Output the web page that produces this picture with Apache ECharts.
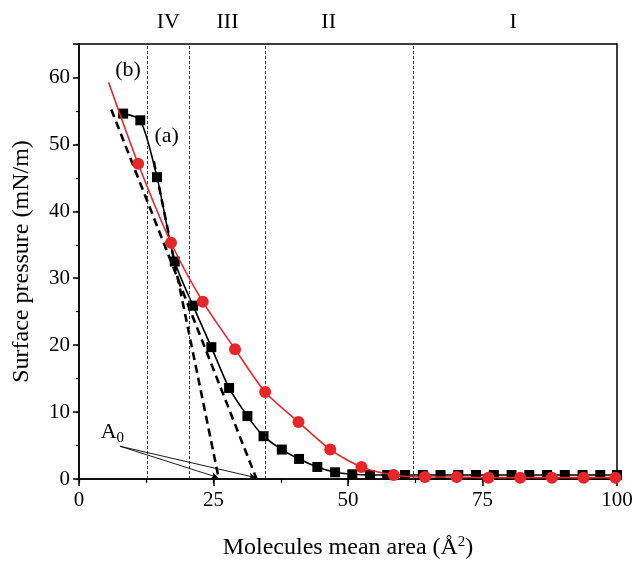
<!DOCTYPE html>
<html>
<head>
<meta charset="utf-8">
<script src="https://cdn.jsdelivr.net/npm/echarts@6/dist/echarts.min.js"></script>
<style>
html, body { margin: 0; padding: 0; background: #fff; }
#chart { width: 641px; height: 571px; }
</style>
</head>
<body>
<div id="chart"></div>
<script>
// curve (a), black squares
const areaA = [8.2, 11.4, 14.5, 17.8, 21.2, 24.6, 27.9, 31.3, 34.3, 37.7, 40.9, 44.3, 47.6, 50.8, 54.1, 57.3,
  60.6, 63.9, 67.2, 70.5, 73.8, 77.1, 80.4, 83.7, 87.0, 90.3, 93.6, 96.9, 100];
const pressA = [54.6, 53.6, 45.1, 32.5, 25.9, 19.7, 13.6, 9.4, 6.4, 4.4, 3.0, 1.8, 1.0, 0.7, 0.6, 0.6,
  0.6, 0.6, 0.6, 0.6, 0.6, 0.6, 0.6, 0.6, 0.6, 0.6, 0.6, 0.6, 0.6];
// curve (b), red circles (first point is the start of the fit, no marker)
const areaB = [5.5, 11.0, 17.1, 23.0, 29.0, 34.6, 40.8, 46.7, 52.5, 58.5, 64.3, 70.2, 76.1, 82.0, 87.9, 93.8, 99.7];
const pressB = [59.3, 47.1, 35.3, 26.5, 19.4, 13.0, 8.5, 4.4, 1.8, 0.6, 0.3, 0.3, 0.2, 0.2, 0.2, 0.2, 0.2];
// extrapolated tangents
const tangentA = [[13.9, 47.5], [26.0, 0]];
const tangentB = [[6.0, 55.2], [33.0, 0]];
// A0 pointer lines
const a0From = [7.6, 4.9];
const a0To = [[25.9, 0.2], [32.9, 0.2]];
// phase regions
const regionBounds = [12.7, 20.5, 34.6, 62.2];
const regionNames = ['IV', 'III', 'II', 'I'];
const regionCenters = [16.6, 27.6, 46.4, 80.7];

const serif = 'Liberation Serif';
const chart = echarts.init(document.getElementById('chart'));

const option = {
  animation: false,
  grid: { left: 79, right: 24, top: 44, bottom: 92, show: true, borderColor: '#000', borderWidth: 1.5 },
  xAxis: [
    {
      type: 'value', min: 0, max: 100, interval: 25,
      name: 'Molecules mean area (Å{sup|2})', nameLocation: 'middle', nameGap: 56,
      nameTextStyle: { fontFamily: serif, fontSize: 24, color: '#000',
        rich: { sup: { fontFamily: serif, fontSize: 15, verticalAlign: 'top', padding: [0, 0, 11, 0] } } },
      axisLine: { onZero: false, lineStyle: { color: '#000', width: 1.5 } },
      axisTick: { inside: false, length: 7, lineStyle: { color: '#000', width: 1.5 } },
      axisLabel: { fontFamily: serif, fontSize: 21, color: '#000', margin: 11 },
      splitLine: { show: false }
    },
    {
      type: 'value', min: 0, max: 100, interval: 12.5, position: 'bottom',
      axisLine: { show: false },
      axisTick: { length: 4, lineStyle: { color: '#000', width: 1.2 } },
      axisLabel: { show: false }, splitLine: { show: false }
    }
  ],
  yAxis: [
    {
      type: 'value', min: 0, max: 65, interval: 10,
      name: 'Surface pressure (mN/m)', nameLocation: 'middle', nameGap: 45,
      nameTextStyle: { fontFamily: serif, fontSize: 24, color: '#000' },
      axisLine: { show: true, lineStyle: { color: '#000', width: 1.5 } },
      axisTick: { inside: false, length: 6, lineStyle: { color: '#000', width: 1.5 } },
      axisLabel: { fontFamily: serif, fontSize: 21, color: '#000', margin: 9,
        formatter: v => (v > 60 ? '' : v) },
      splitLine: { show: false }
    },
    {
      type: 'value', min: 0, max: 65, interval: 5, position: 'left',
      axisLine: { show: false },
      axisTick: { length: 3, lineStyle: { color: '#000', width: 1.2 } },
      axisLabel: { show: false }, splitLine: { show: false }
    }
  ],
  series: [
    {
      name: 'tangentA', type: 'line', data: tangentA, symbol: 'none', z: 3,
      lineStyle: { color: '#000', width: 2.6, type: [8, 5] }
    },
    {
      name: 'tangentB', type: 'line', data: tangentB, symbol: 'none', z: 3,
      lineStyle: { color: '#000', width: 2.6, type: [8, 5] },
      markLine: {
        silent: true, symbol: ['none', 'none'], label: { show: false },
        lineStyle: { color: '#333', width: 1, type: [3, 2] },
        data: regionBounds.map(v => ({ xAxis: v }))
      }
    },
    {
      name: 'a', type: 'line', smooth: 0.25,
      data: areaA.map((x, i) => [x, pressA[i]]),
      symbol: 'rect', symbolSize: 10, z: 4,
      itemStyle: { color: '#000' },
      lineStyle: { color: '#000', width: 1.6 },
      markLine: {
        silent: true, symbol: ['none', 'arrow'], symbolSize: [5, 7], label: { show: false },
        lineStyle: { color: '#000', width: 0.9, type: 'solid' },
        data: a0To.map(p => [{ coord: a0From }, { coord: p }])
      }
    },
    {
      name: 'b', type: 'line', smooth: 0.25,
      data: areaB.map((x, i) => (i === 0 ? { value: [x, pressB[i]], symbol: 'none' } : [x, pressB[i]])),
      symbol: 'circle', symbolSize: 12, z: 5,
      itemStyle: { color: '#e8262a' },
      lineStyle: { color: '#e8262a', width: 1.6 }
    }
  ]
};
chart.setOption(option);

// text annotations placed in data space
function at(x, y) { return chart.convertToPixel({ xAxisIndex: 0, yAxisIndex: 0 }, [x, y]); }
const textStyle = { fontFamily: serif, fontSize: 22, fill: '#000', align: 'center', verticalAlign: 'middle' };
const graphics = regionNames.map((name, i) => {
  const p = at(regionCenters[i], 0);
  return { type: 'text', x: p[0], y: 22, style: Object.assign({ text: name }, textStyle) };
});
const pb = at(9.1, 61.1), pa = at(16.3, 51.2), p0 = at(6.2, 7.0);
graphics.push({ type: 'text', x: pb[0], y: pb[1], style: Object.assign({ text: '(b)' }, textStyle) });
graphics.push({ type: 'text', x: pa[0], y: pa[1], style: Object.assign({ text: '(a)' }, textStyle) });
graphics.push({ type: 'text', x: p0[0], y: p0[1], style: {
  text: 'A{sub|0}', fontFamily: serif, fontSize: 22, fill: '#000', align: 'center', verticalAlign: 'middle',
  rich: { sub: { fontFamily: serif, fontSize: 15, verticalAlign: 'bottom', padding: [12, 0, 0, 0] } } } });
chart.setOption({ graphic: graphics });
</script>
</body>
</html>
